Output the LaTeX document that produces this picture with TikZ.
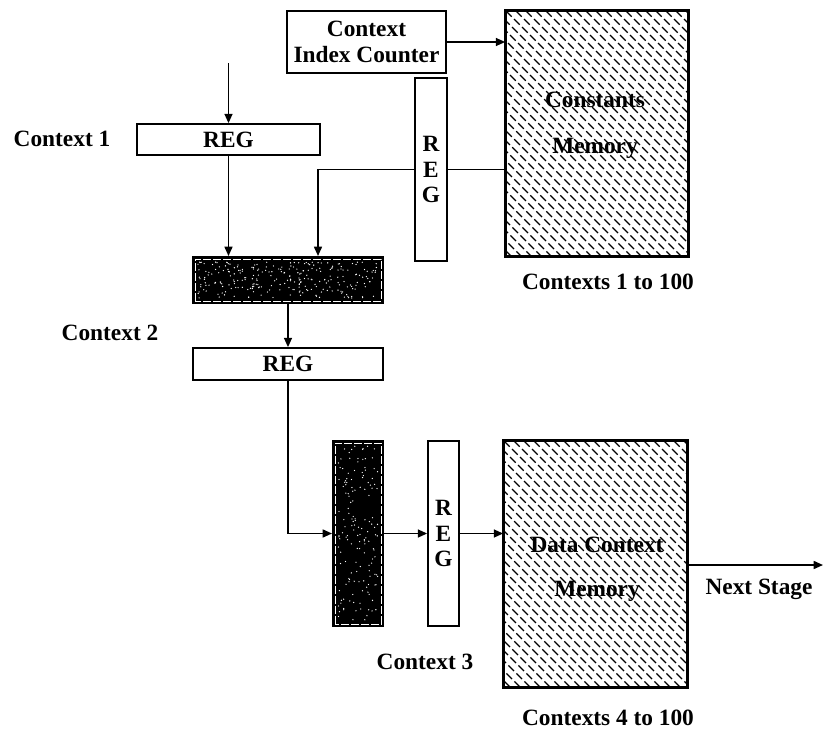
\documentclass[tikz,border=0pt]{standalone}
\usepackage{fontspec}
\setmainfont{Liberation Serif}
\usetikzlibrary{arrows.meta}
\begin{document}
\begin{tikzpicture}[x=0.75pt,y=-0.75pt,
  lbl/.style={font=\fontsize{17.5}{19}\selectfont\bfseries, inner sep=0},
  box/.style={draw, line width=1.3pt, fill=white, inner sep=0, lbl},
  mem/.style={draw, line width=1.3pt, inner sep=0},
  dark/.style={draw, line width=1.5pt, fill=black, inner sep=0},
  conn/.style={line width=1.2pt},
  arr/.style={conn, -{Triangle[length=7pt,width=6pt]}},
  hatch/.style={line width=0.9pt, dash pattern=on 6pt off 2.5pt},
]
\useasboundingbox (0,0) rectangle (825,732);

% boxes
\node[box, minimum width=119.25pt, minimum height=46.5pt, align=center] (cic) at (366.5,42) {Context\\Index Counter};
\node[box, minimum width=137.25pt, minimum height=23.25pt] (reg1) at (228.5,139.5) {REG};
\node[box, minimum width=24pt, minimum height=137.25pt, align=center] (regv) at (431,169.5) {R\\E\\G};
\node[mem, minimum width=136.5pt, minimum height=183.75pt] (cmem) at (597,133.5) {};
\node[dark, minimum width=142.5pt, minimum height=34.5pt] (sh1) at (288,280) {};
\node[box, minimum width=142.5pt, minimum height=24pt] (reg2) at (288,364) {REG};
\node[dark, minimum width=37.5pt, minimum height=138.75pt] (sh2) at (358,533.5) {};
\node[box, minimum width=23.25pt, minimum height=138.75pt, align=center] (reg3) at (443.5,533.5) {R\\E\\G};
\node[mem, minimum width=137.25pt, minimum height=184.5pt] (dmem) at (595.5,564) {};

% hatching of memories
\begin{scope}
  \clip (cmem.south west) rectangle (cmem.north east);
  \foreach \k in {-260,-250,...,200} {\draw[hatch] (506+\k,11) -- ++(270,270);}
\end{scope}
\begin{scope}
  \clip (dmem.south west) rectangle (dmem.north east);
  \foreach \k in {-260,-250,...,200} {\draw[hatch] (504+\k,441) -- ++(270,270);}
\end{scope}
\draw[line width=1.3pt] (cmem.south west) rectangle (cmem.north east);
\draw[line width=1.3pt] (dmem.south west) rectangle (dmem.north east);

% speckles of the dark boxes
\pgfmathsetseed{11}
\draw[white, line width=0.7pt, dash pattern=on 6pt off 1.5pt] ([shift={(3,-3)}]sh1.south west) rectangle ([shift={(-3,3)}]sh1.north east);
\draw[white, line width=0.7pt, dash pattern=on 6pt off 1.5pt] ([shift={(3,-3)}]sh2.south west) rectangle ([shift={(-3,3)}]sh2.north east);
\foreach \i in {1,...,260} {
  \pgfmathsetmacro\rx{198+rnd*180}
  \pgfmathsetmacro\ry{262+rnd*36}
  \fill[white] (\rx,\ry) circle (0.5pt);
}
\foreach \i in {1,...,150} {
  \pgfmathsetmacro\rx{338+rnd*40}
  \pgfmathsetmacro\ry{446+rnd*175}
  \fill[white] (\rx,\ry) circle (0.5pt);
}

% memory texts
\node[lbl] (t1) at (595,100) {Constants};
\node[lbl] (t2) at (595,148) {Memory};
\node[lbl] (t3) at (597,545) {Data Context};
\node[lbl] (t4) at (597,591) {Memory};

% labels
\node[lbl] (c1) at (62,139) {Context 1};
\node[lbl] (c2) at (110,333) {Context 2};
\node[lbl] (c3) at (425,662) {Context 3};
\node[lbl] (k1) at (608,282) {Contexts 1 to 100};
\node[lbl] (k4) at (608,718) {Contexts 4 to 100};
\node[lbl] (ns) at (759,589) {Next Stage};

% connectors
\coordinate (in) at (228.5,63);
\coordinate (out) at (823,565);
\draw[arr] (in) -- (reg1.north);
\draw[arr] (reg1.south) -- (reg1.south |- sh1.north);
\draw[arr] (cic.east) -- (cic.east -| cmem.west);
\draw[conn] (cmem.west |- regv.center) -- (regv.east);
\draw[arr] (regv.west) -| ([xshift=22.5pt]sh1.north);
\draw[arr] (sh1.south) -- (reg2.north);
\draw[arr] (reg2.south) |- (sh2.west);
\draw[arr] (sh2.east) -- (reg3.west);
\draw[arr] (reg3.east) -- (reg3.east -| dmem.west);
\draw[arr] (dmem.east |- out) -- (out);
\end{tikzpicture}
\end{document}
